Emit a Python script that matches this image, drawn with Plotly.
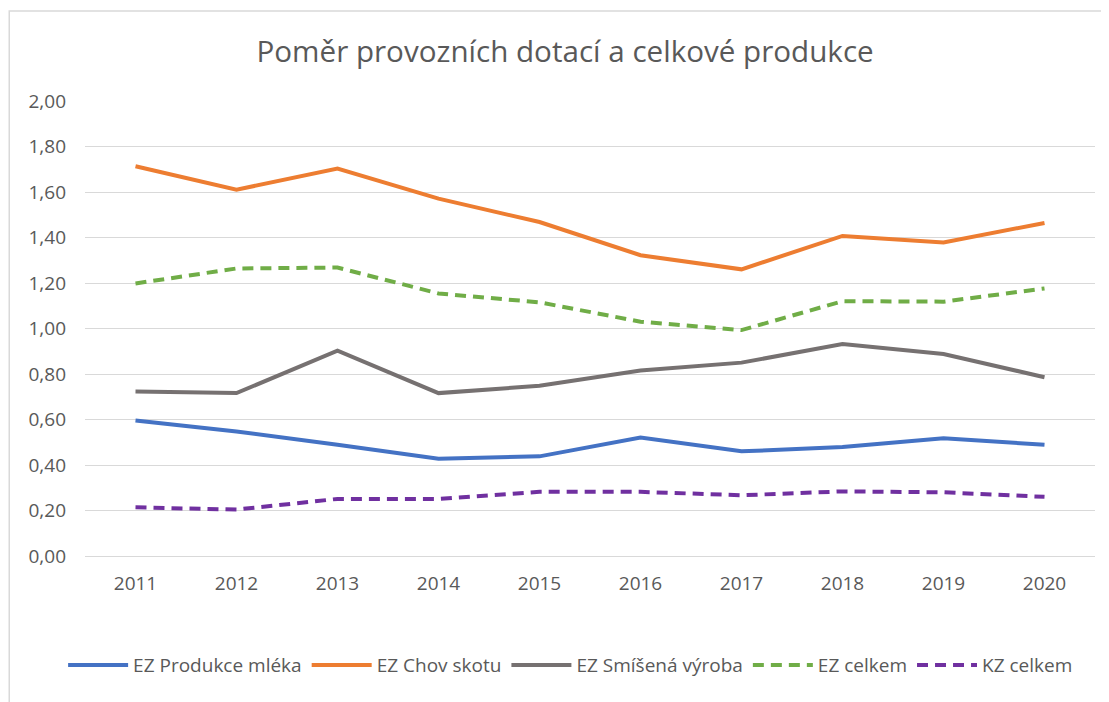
import plotly.graph_objects as go

# Data
years = ["2011", "2012", "2013", "2014", "2015", "2016", "2017", "2018", "2019", "2020"]

ez_mleko = [0.596, 0.547, 0.489, 0.428, 0.438, 0.521, 0.460, 0.479, 0.518, 0.489]
ez_skot = [1.713, 1.610, 1.703, 1.571, 1.468, 1.322, 1.260, 1.407, 1.378, 1.464]
ez_smisena = [0.723, 0.716, 0.903, 0.716, 0.748, 0.815, 0.850, 0.932, 0.888, 0.786]
ez_celkem = [1.198, 1.264, 1.268, 1.154, 1.115, 1.030, 0.993, 1.120, 1.118, 1.176]
kz_celkem = [0.214, 0.204, 0.251, 0.251, 0.282, 0.282, 0.267, 0.284, 0.280, 0.260]

series = [
    ("EZ Produkce mléka", ez_mleko, "#4472C4", "solid"),
    ("EZ Chov skotu", ez_skot, "#ED7D31", "solid"),
    ("EZ Smíšená výroba", ez_smisena, "#767171", "solid"),
    ("EZ celkem", ez_celkem, "#70AD47", "11px,7px"),
    ("KZ celkem", kz_celkem, "#7030A0", "11px,7px"),
]

FONT = "Open Sans"
TEXT = "#595959"

fig = go.Figure()
for name, vals, color, dash in series:
    fig.add_trace(go.Scatter(
        x=years, y=vals, name=name, mode="lines",
        line=dict(color=color, width=4, dash=dash),
    ))

# page body has an 8px margin, so the figure is a little smaller
fig.update_layout(
    width=1101, height=694,
    margin=dict(l=77, r=14, t=93, b=146),
    paper_bgcolor="white", plot_bgcolor="white",
    separators=", ",
    font=dict(family=FONT, color=TEXT, size=19),
    title=dict(text="Poměr provozních dotací a celkové produkce",
               x=0.506, xanchor="center", y=0.937, yanchor="middle",
               font=dict(size=29.6, color=TEXT, family=FONT)),
    showlegend=True,
    legend=dict(orientation="h", xref="container", x=0.511, xanchor="center",
                yref="container", y=0.053, yanchor="middle",
                font=dict(size=19, color=TEXT, family=FONT),
                itemwidth=60, tracegroupgap=0),
    shapes=[dict(type="rect", xref="paper", yref="paper",
                 x0=-0.075, x1=1.2, y0=-0.6, y1=1.198,
                 line=dict(color="#D9D9D9", width=1.5), layer="below")],
)

fig.update_xaxes(
    type="category", range=[-0.5, 9.5],
    showgrid=False, showline=False, zeroline=False,
    ticks="", ticklabelstandoff=14, tickfont=dict(size=19, color=TEXT),
)
fig.update_yaxes(
    range=[0, 2], dtick=0.2, tickformat=".2f",
    showgrid=True, gridcolor="#D9D9D9", gridwidth=1.3,
    zeroline=True, zerolinecolor="#D9D9D9", zerolinewidth=1.3,
    showline=False, ticks="", ticklabelstandoff=18,
    tickfont=dict(size=19, color=TEXT),
)

fig.write_html("out.html")
